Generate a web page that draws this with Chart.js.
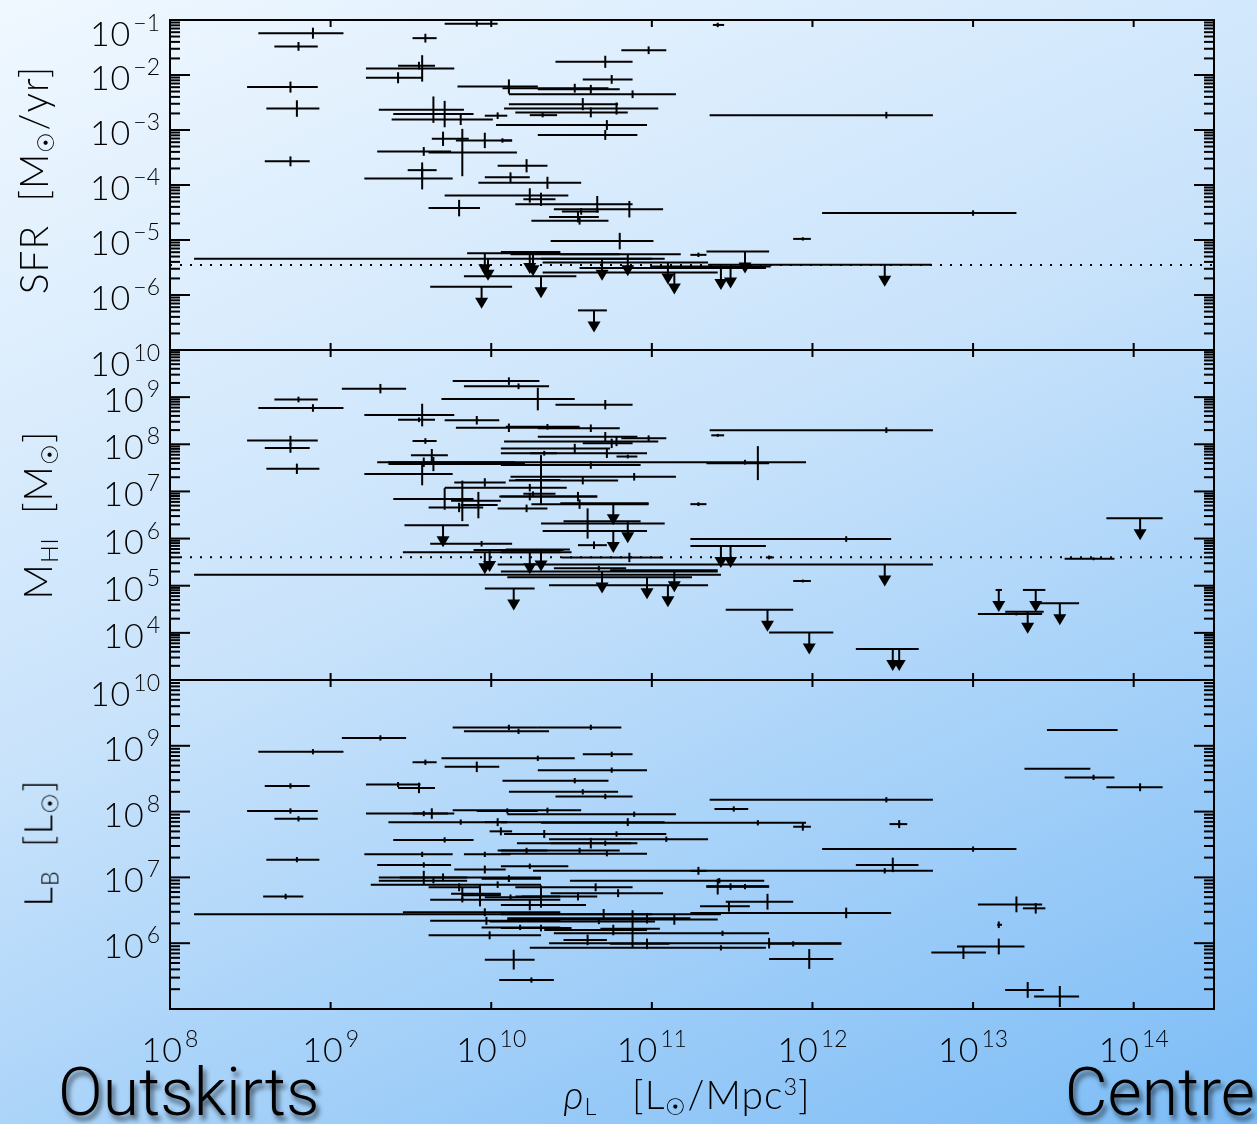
<!DOCTYPE html>
<html>
<head>
<meta charset="utf-8">
<script src="https://cdn.jsdelivr.net/npm/chart.js@4.4.0/dist/chart.umd.min.js"></script>
<style>
html,body{margin:0;padding:0;width:1257px;height:1124px;overflow:hidden;}
body{background:linear-gradient(155deg,#f0f8ff 0%,#c9e3fb 45%,#7cbcf6 100%);}
#wrap{position:relative;width:1257px;height:1124px;}
canvas{position:absolute;left:0;top:0;}
.t{position:absolute;white-space:nowrap;font-family:Lato,"Open Sans",sans-serif;font-weight:300;color:#000;line-height:1;}
.yt{transform:translate(-50%,-50%) rotate(-90deg);font-size:39px;letter-spacing:1px;}
.t sub{font-size:60%;vertical-align:-0.25em;}
.t sup{font-size:60%;vertical-align:0.6em;}
.big{font-family:Roboto,Lato,sans-serif;font-weight:300;font-size:66px;text-shadow:3px 5px 5px rgba(0,0,0,0.6);}
</style>
</head>
<body>
<div id="wrap">
<canvas id="c1" width="1257" height="1124"></canvas>
<canvas id="c2" width="1257" height="1124"></canvas>
<canvas id="c3" width="1257" height="1124"></canvas>
<div class="t yt" style="left:36px;top:180px;">SFR&nbsp; [M<sub>☉</sub>/yr]</div>
<div class="t yt" style="left:40px;top:515px;">M<sub>HI</sub>&nbsp; [M<sub>☉</sub>]</div>
<div class="t yt" style="left:40px;top:843px;">L<sub>B</sub>&nbsp; [L<sub>☉</sub>]</div>
<div class="t" style="left:687px;top:1097px;transform:translate(-50%,-50%);font-size:39px;letter-spacing:1px;"><i>ρ</i><sub>L</sub>&nbsp;&nbsp; [L<sub>☉</sub>/Mpc<sup>3</sup>]</div>
<div class="t big" style="left:58px;top:1060px;">Outskirts</div>
<div class="t big" style="right:2px;top:1060px;">Centre</div>
</div>
<script>
// ---------- axis ranges and tick labels (log10 exponents) ----------
const xRangeExp = [8, 14.5];
const xTickExps = [8, 9, 10, 11, 12, 13, 14];
const sfrRangeExp = [-7, -1];
const sfrTickExps = [-1, -2, -3, -4, -5, -6];
const hiRangeExp = [3, 10];
const hiTickExps = [10, 9, 8, 7, 6, 5, 4];
const lbRangeExp = [5, 10];
const lbTickExps = [10, 9, 8, 7, 6];

// detection thresholds (dotted lines)
const sfrThreshold = 3.5e-6;
const hiThreshold = 4.0e5;

// ---------- data: log10 values ----------
// detections: [log rho_lo, log rho, log rho_hi, log y, y error (dex)]
// upper limits: [log rho_lo, log rho, log rho_hi, log y]
const sfrDet = [
[9.71,9.91,10.04,-1.07,0.05],[11.38,11.41,11.45,-1.09,0.04],[8.55,8.89,9.08,-1.24,0.10],
[8.65,8.80,8.92,-1.48,0.08],[9.51,9.59,9.66,-1.33,0.08],[10.81,10.98,11.09,-1.55,0.07],
[10.40,10.71,10.88,-1.76,0.11],[9.22,9.57,9.77,-1.88,0.24],[9.42,9.55,9.65,-1.83,0.07],
[9.22,9.42,9.57,-2.05,0.10],[10.57,10.75,10.88,-2.08,0.08],[8.48,8.75,8.92,-2.22,0.10],
[9.79,10.11,10.29,-2.21,0.13],[10.07,10.52,10.73,-2.24,0.08],[10.29,10.62,10.80,-2.26,0.08],
[10.11,10.88,11.15,-2.35,0.07],[10.11,10.57,10.79,-2.53,0.11],[10.08,10.78,11.04,-2.61,0.11],
[10.15,10.62,10.85,-2.68,0.09],[10.24,10.32,10.41,-2.73,0.04],[9.96,10.04,10.10,-2.74,0.06],
[9.30,9.64,9.83,-2.63,0.24],[9.39,9.71,9.89,-2.71,0.24],[9.38,9.81,10.01,-2.81,0.10],
[8.60,8.79,8.93,-2.61,0.15],[8.59,8.75,8.87,-3.57,0.09],
[10.03,10.72,10.97,-2.91,0.09],[10.29,10.71,10.91,-3.09,0.09],[9.63,9.70,9.86,-3.16,0.13],
[9.78,9.96,10.13,-3.19,0.14],[10.06,10.07,10.13,-3.19,0.04],[9.29,9.58,9.75,-3.39,0.08],
[9.61,9.82,10.16,-3.41,0.43],[9.48,9.57,9.66,-3.73,0.14],[9.21,9.57,9.76,-3.88,0.20],
[10.04,10.22,10.35,-3.65,0.12],[9.96,10.12,10.24,-3.86,0.09],[9.92,10.35,10.56,-3.96,0.11],
[9.71,10.24,10.48,-4.19,0.13],[10.20,10.31,10.40,-4.26,0.12],[10.15,10.66,10.88,-4.35,0.15],
[10.39,10.86,11.07,-4.44,0.15],[10.44,10.56,10.67,-4.48,0.06],[10.36,10.54,10.67,-4.58,0.10],
[10.25,10.55,10.73,-4.65,0.07],[9.61,9.80,9.93,-4.42,0.15],[10.37,10.80,11.01,-5.02,0.15],
[12.06,13.00,13.27,-4.51,0.05],[11.36,12.46,12.75,-2.73,0.06],[11.88,11.94,11.99,-4.98,0.03],
[11.24,11.29,11.34,-5.27,0.04]
];
const sfrLim = [
[8.15,9.98,11.00,-5.34],[9.85,9.96,10.43,-5.24],[9.62,9.94,10.13,-5.85],[10.06,10.24,10.43,-5.22],
[10.12,10.26,10.80,-5.26],[9.83,10.31,10.53,-5.66],[10.31,10.69,11.08,-5.34],[10.43,10.85,11.18,-5.26],
[10.32,11.10,11.35,-5.41],[10.32,11.14,11.41,-5.59],[10.55,11.43,11.71,-5.51],[10.99,11.49,11.74,-5.48],
[11.34,11.58,11.73,-5.21],[10.54,10.64,10.72,-6.28],[11.35,12.45,12.74,-5.45]
];
const hiDet = [
[9.07,9.31,9.47,9.18,0.10],[9.76,10.11,10.30,9.34,0.08],[9.83,10.17,10.36,9.23,0.06],
[8.65,8.80,8.92,8.95,0.06],[8.55,8.89,9.08,8.77,0.08],[9.69,10.29,10.52,8.96,0.24],
[10.40,10.71,10.88,8.84,0.10],[9.21,9.57,9.77,8.62,0.24],[9.42,9.55,9.65,8.52,0.05],
[9.71,9.91,10.05,8.51,0.09],[9.78,10.11,10.55,8.35,0.09],[10.09,10.35,10.55,8.37,0.06],
[10.29,10.62,10.80,8.34,0.08],[8.48,8.75,8.92,8.08,0.10],[8.59,8.75,8.87,7.92,0.10],
[9.51,9.59,9.66,8.07,0.06],[8.60,8.79,8.93,7.48,0.11],[9.50,9.63,9.73,7.77,0.13],
[9.29,9.58,10.15,7.62,0.10],[9.36,9.64,10.21,7.58,0.15],[9.21,9.57,9.76,7.37,0.24],
[9.77,9.96,10.09,7.19,0.09],[9.71,10.24,10.47,7.08,0.08],[9.39,9.71,9.89,6.84,0.23],
[9.75,9.82,10.06,6.80,0.43],[9.81,9.92,10.04,6.71,0.28],[9.61,9.80,9.95,6.66,0.10],
[10.04,10.22,10.35,6.64,0.08],[10.05,10.24,10.66,6.89,0.08],[9.62,9.94,10.13,5.89,0.06],
[11.36,12.46,12.75,8.30,0.06],[11.37,11.41,11.45,8.19,0.03],[10.81,10.98,11.09,8.13,0.06],
[10.08,10.78,11.04,8.06,0.10],[10.57,10.75,10.88,8.02,0.10],[10.29,10.71,10.91,8.16,0.10],
[10.06,10.52,10.74,7.91,0.10],[10.06,10.72,10.97,7.81,0.10],[10.78,10.85,10.91,7.74,0.04],
[10.24,10.33,10.41,7.81,0.05],[10.20,10.26,10.40,6.95,0.05],[10.15,10.31,10.43,7.24,0.53],
[9.36,11.58,11.96,7.62,0.05],[10.06,10.62,10.93,7.56,0.08],[11.34,11.66,11.73,7.60,0.36],
[10.12,10.89,11.15,7.31,0.08],[10.11,10.57,10.79,7.23,0.08],[10.06,10.54,10.66,6.89,0.10],
[10.25,10.55,10.98,6.73,0.10],[11.24,11.29,11.34,6.73,0.04],[10.31,10.60,11.08,6.32,0.32],
[11.24,12.21,12.49,5.99,0.06],[10.54,10.64,10.72,5.86,0.08],[10.44,10.86,11.07,5.60,0.10],
[11.71,11.73,11.76,5.60,0.04],[11.88,11.94,11.99,5.10,0.03],[13.57,13.75,13.88,5.57,0.03],
[13.03,13.27,13.43,4.40,0.03],[8.15,9.98,11.43,5.23,0],[10.39,10.67,10.84,5.37,0.05]
];
const hiLim = [
[9.46,9.70,9.86,6.28],[9.89,9.99,10.45,5.76],[9.45,9.96,10.50,5.71],[10.06,10.24,10.43,5.71],
[10.09,10.31,10.49,5.77],[9.96,10.14,10.27,4.94],[10.43,10.76,10.98,6.75],[10.32,10.76,10.97,6.16],
[10.45,10.85,10.93,6.37],[11.34,11.43,11.59,5.84],[11.24,11.49,11.71,5.84],[10.04,12.45,12.75,5.45],
[10.06,10.69,11.41,5.30],[10.10,10.97,11.25,5.18],[10.36,11.10,11.35,5.01],[10.74,11.14,11.41,5.33],
[11.46,11.72,11.88,4.49],[11.73,11.98,12.13,4.01],[12.27,12.50,12.66,3.66],[12.36,12.54,12.66,3.66],
[13.83,14.04,14.18,6.43],[13.14,13.16,13.18,4.91],[13.31,13.39,13.45,4.91],[13.40,13.54,13.66,4.63],
[13.20,13.34,13.44,4.45]
];
const lbDet = [
[9.07,9.31,9.47,9.12,0.04],[9.76,10.11,10.29,9.28,0.04],[10.29,10.62,10.81,9.28,0.04],
[9.83,10.17,10.36,9.22,0.04],[8.55,8.89,9.08,8.91,0.04],[9.69,10.29,10.52,8.81,0.04],
[10.57,10.75,10.88,8.87,0.04],[9.51,9.59,9.66,8.75,0.04],[9.71,9.91,10.05,8.68,0.08],
[10.29,10.75,10.97,8.63,0.04],[10.07,10.52,10.73,8.47,0.04],[8.59,8.75,8.87,8.39,0.04],
[9.22,9.42,9.56,8.41,0.04],[9.42,9.55,9.65,8.36,0.08],[10.11,10.57,10.79,8.30,0.04],
[10.40,10.71,10.88,8.23,0.04],[8.48,8.75,8.92,8.01,0.04],[8.65,8.80,8.92,7.89,0.04],
[9.22,9.58,9.77,7.97,0.04],[9.51,9.63,9.73,7.97,0.08],[9.76,10.35,10.56,8.02,0.04],
[9.91,10.10,10.29,8.01,0.04],[10.10,10.89,11.15,7.96,0.04],[9.36,9.81,10.10,7.84,0.04],
[9.96,10.04,10.10,7.84,0.06],[10.06,10.85,11.08,7.84,0.06],[10.31,11.66,11.96,7.83,0.04],
[11.88,11.94,11.99,7.77,0.06],[9.99,10.06,10.13,7.70,0.06],[10.24,10.33,10.41,7.66,0.06],
[10.08,10.78,11.09,7.66,0.04],[10.36,11.09,11.35,7.58,0.04],[9.39,9.71,9.89,7.57,0.04],
[10.16,10.62,10.91,7.52,0.08],[10.37,10.71,10.87,7.52,0.04],[10.06,10.22,10.35,7.41,0.04],
[10.04,10.55,10.80,7.41,0.04],[10.06,10.72,10.97,7.36,0.04],[9.21,9.57,9.76,7.35,0.04],
[9.83,9.96,10.12,7.35,0.04],[8.60,8.79,8.93,7.27,0.04],[9.29,9.58,9.75,7.19,0.04],
[9.77,9.96,10.09,7.12,0.06],[10.06,10.24,10.48,7.17,0.04],[10.26,12.45,12.75,7.10,0.04],
[11.24,11.29,11.34,7.10,0.06],[12.27,12.50,12.66,7.19,0.11],[11.36,12.46,12.75,8.18,0.04],
[11.39,11.51,11.60,8.04,0.04],[12.48,12.54,12.59,7.81,0.06],[12.06,13.00,13.27,7.43,0.04],
[10.49,11.42,11.70,6.95,0.04],[11.34,11.41,11.73,6.86,0.12],[11.34,11.58,11.73,6.86,0.04],
[11.34,11.49,11.73,6.86,0.05],[11.46,11.72,11.88,6.63,0.12],[11.30,11.48,11.61,6.56,0.08],
[11.24,12.21,12.49,6.46,0.08],[10.10,11.14,11.41,6.36,0.08],[10.39,11.44,11.73,6.15,0.04],
[10.36,11.73,12.18,6.00,0.08],[11.73,11.88,12.18,5.99,0.04],[10.24,11.43,11.71,5.93,0.04],
[11.73,11.98,12.13,5.76,0.15],[9.96,10.14,10.27,5.75,0.15],[10.05,10.25,10.39,5.44,0.04],
[10.45,10.60,10.72,6.05,0.08],[10.06,10.31,10.50,6.23,0.05],[10.33,10.76,10.97,6.20,0.08],
[10.06,10.70,11.00,6.44,0.08],[10.10,10.97,11.24,6.38,0.08],[9.99,10.67,11.02,6.33,0.04],
[10.74,10.97,11.11,5.99,0.08],[10.68,10.88,11.05,6.22,0.28],[10.37,10.79,11.07,6.76,0.06],
[10.15,10.65,10.88,6.85,0.06],[10.19,10.54,10.66,6.71,0.06],[10.06,10.24,10.59,6.58,0.08],
[10.06,10.11,10.23,6.99,0.04],[10.15,10.31,10.43,6.71,0.17],[9.30,9.58,9.85,7.00,0.10],
[9.43,9.70,10.31,7.00,0.06],[9.30,9.64,9.85,6.95,0.04],[9.94,10.11,10.31,6.98,0.05],
[9.25,10.04,10.31,6.89,0.05],[9.61,9.80,9.93,6.85,0.06],[9.75,9.82,10.06,6.75,0.09],
[9.82,9.93,10.06,6.73,0.17],[8.58,8.72,8.83,6.71,0.04],[9.96,10.12,10.31,6.70,0.04],
[9.62,9.82,10.43,6.66,0.04],[9.45,9.96,10.43,6.47,0.06],[8.15,9.98,11.43,6.44,0],
[9.62,9.97,10.43,6.34,0.06],[9.61,9.99,10.31,6.12,0.06],[9.94,10.18,10.43,6.24,0.04],
[13.46,13.68,13.90,9.24,0],[13.32,13.53,13.73,8.65,0],[13.57,13.75,13.88,8.52,0.04],
[13.83,14.04,14.18,8.37,0.06],[13.03,13.27,13.43,6.59,0.12],[13.31,13.39,13.45,6.53,0.08],
[13.15,13.16,13.18,6.28,0.05],[12.90,13.16,13.32,5.95,0.12],[12.74,12.94,13.08,5.86,0.10],
[13.20,13.34,13.44,5.29,0.12],[13.38,13.54,13.66,5.19,0.16]
];
const lbLim = [];

// ---------- helpers ----------
const P = v => Math.pow(10, v);
function detPoints(rows){
  return rows.map(r => ({x:P(r[1]), y:P(r[3]), xMin:P(r[0]), xMax:P(r[2]),
    yMin: r[4] ? P(r[3]-r[4]) : null, yMax: r[4] ? P(r[3]+r[4]) : null, limit:false}));
}
function limPoints(rows){
  return rows.map(r => ({x:P(r[1]), y:P(r[3]), xMin:P(r[0]), xMax:P(r[2]), limit:true}));
}

const LABEL_FONT = '300 34px Lato, "Open Sans", sans-serif';
const EXP_FONT = '300 23px Lato, "Open Sans", sans-serif';
function drawPow(ctx, exp, xAnchor, baseline, align){
  const base = '10';
  const sup = exp < 0 ? '\u2212' + (-exp) : String(exp);
  ctx.font = LABEL_FONT; const wb = ctx.measureText(base).width + 1;
  ctx.font = EXP_FONT; const ws = ctx.measureText(sup).width;
  const total = wb + 3 + ws;
  const x0 = align === 'right' ? xAnchor - total : xAnchor - total / 2;
  ctx.textAlign = 'left'; ctx.textBaseline = 'alphabetic'; ctx.fillStyle = '#000';
  ctx.font = LABEL_FONT;
  ctx.fillText('1', x0, baseline);
  ctx.fillText('0', x0 + ctx.measureText('1').width + 1, baseline);
  ctx.font = EXP_FONT; ctx.fillText(sup, x0 + wb + 3, baseline - 15);
}

const errorBarPlugin = {
  id: 'errbars',
  afterDatasetsDraw(chart){
    const {ctx, scales:{x, y}} = chart;
    ctx.save();
    ctx.strokeStyle = '#000'; ctx.fillStyle = '#000'; ctx.lineWidth = 2; ctx.lineCap = 'butt';
    chart.data.datasets.forEach(ds => {
      if (!ds.errorBars) return;
      ds.data.forEach(p => {
        const px = x.getPixelForValue(p.x), py = y.getPixelForValue(p.y);
        const x0 = x.getPixelForValue(p.xMin), x1 = x.getPixelForValue(p.xMax);
        ctx.beginPath(); ctx.moveTo(x0, py); ctx.lineTo(x1, py); ctx.stroke();
        if (p.limit){
          ctx.beginPath(); ctx.moveTo(px, py); ctx.lineTo(px, py + 12); ctx.stroke();
          ctx.beginPath(); ctx.moveTo(px - 6.5, py + 11); ctx.lineTo(px + 6.5, py + 11);
          ctx.lineTo(px, py + 22); ctx.closePath(); ctx.fill();
        } else if (p.yMin != null){
          const y0 = y.getPixelForValue(p.yMin), y1 = y.getPixelForValue(p.yMax);
          ctx.beginPath(); ctx.moveTo(px, y0); ctx.lineTo(px, y1); ctx.stroke();
        }
      });
    });
    ctx.restore();
  }
};

const framePlugin = {
  id: 'frame',
  afterDraw(chart){
    const {ctx, chartArea:a, scales:{x, y}} = chart;
    const o = chart.options.plugins.frame;
    ctx.save();
    ctx.strokeStyle = '#000'; ctx.lineWidth = 2;
    ctx.strokeRect(a.left, a.top, a.right - a.left, a.bottom - a.top);
    const seg = (x0, y0, x1, y1) => { ctx.beginPath(); ctx.moveTo(x0, y0); ctx.lineTo(x1, y1); ctx.stroke(); };
    xTickExps.forEach(e => {
      const px = x.getPixelForValue(P(e));
      seg(px, a.top, px, a.top + 7);
      seg(px, a.bottom, px, a.bottom - 7);
    });
    for (let e = o.yRange[0]; e < o.yRange[1]; e++){
      for (let k = 1; k <= 9; k++){
        const py = y.getPixelForValue(k * P(e));
        const len = k === 1 ? 20 : 10;
        seg(a.left, py, a.left + len, py);
        seg(a.right, py, a.right - len, py);
      }
    }
    const pt = y.getPixelForValue(P(o.yRange[1]));
    seg(a.left, pt, a.left + 20, pt); seg(a.right, pt, a.right - 20, pt);
    o.yTicks.forEach(e => {
      const py = y.getPixelForValue(P(e));
      const bl = Math.max(py + 15, a.top + 26);
      drawPow(ctx, e, 160, bl, 'right');
    });
    if (o.xLabels){
      xTickExps.forEach(e => drawPow(ctx, e, x.getPixelForValue(P(e)), 1062, 'center'));
    }
    ctx.restore();
  }
};

function thresholdSet(v){
  return {type:'scatter', showLine:true, data:[{x:P(xRangeExp[0]), y:v}, {x:P(xRangeExp[1]), y:v}],
    borderColor:'#000', borderWidth:2, borderDash:[2,8], pointRadius:0, fill:false};
}

function makePanel(id, top, bottom, yRange, yTicks, datasets, xLabels){
  return new Chart(document.getElementById(id), {
    type: 'scatter',
    data: {datasets},
    options: {
      responsive:false, animation:false, devicePixelRatio:1,
      layout:{padding:{left:170, right:1257 - 1214, top:top, bottom:1124 - bottom}},
      plugins:{legend:{display:false}, tooltip:{enabled:false},
        frame:{yRange, yTicks, xLabels}},
      scales:{
        x:{type:'logarithmic', min:P(xRangeExp[0]), max:P(xRangeExp[1]), display:false},
        y:{type:'logarithmic', min:P(yRange[0]), max:P(yRange[1]), display:false}
      }
    },
    plugins:[errorBarPlugin, framePlugin]
  });
}

makePanel('c1', 20, 350, sfrRangeExp, sfrTickExps, [
  {label:'SFR', data:detPoints(sfrDet), pointRadius:0, errorBars:true},
  {label:'SFR upper limits', data:limPoints(sfrLim), pointRadius:0, errorBars:true},
  thresholdSet(sfrThreshold)
], false);
makePanel('c2', 350, 680, hiRangeExp, hiTickExps, [
  {label:'M_HI', data:detPoints(hiDet), pointRadius:0, errorBars:true},
  {label:'M_HI upper limits', data:limPoints(hiLim), pointRadius:0, errorBars:true},
  thresholdSet(hiThreshold)
], false);
makePanel('c3', 680, 1009, lbRangeExp, lbTickExps, [
  {label:'L_B', data:detPoints(lbDet), pointRadius:0, errorBars:true},
  {label:'L_B upper limits', data:limPoints(lbLim), pointRadius:0, errorBars:true}
], true);
</script>
</body>
</html>
